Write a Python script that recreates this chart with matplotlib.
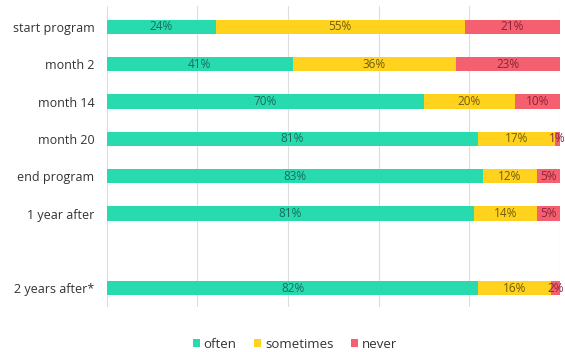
#!/usr/bin/env python3
"""Stacked 100% bar chart: how often participants use what they learned."""

import numpy as np
import matplotlib
matplotlib.use("Agg")
import matplotlib.pyplot as plt

# --- data ---
categories = ["start program", "month 2", "month 14", "month 20",
              "end program", "1 year after", "2 years after*"]
positions = [0, 1, 2, 3, 4, 5, 7]  # gap before the last row
often = [24, 41, 70, 81, 83, 81, 82]
sometimes = [55, 36, 20, 17, 12, 14, 16]
never = [21, 23, 10, 1, 5, 5, 2]

series_names = ["often", "sometimes", "never"]
series_colors = ["#27DBAF", "#FFD21E", "#F4606F"]
label_colors = ["#1B6B58", "#6E5B0E", "#8C2238"]

plt.rcParams["font.family"] = ["Open Sans", "DejaVu Sans"]

fig = plt.figure(figsize=(5.65, 3.52), dpi=100)
ax = fig.add_axes([0.189, 0.128, 0.802, 0.855])

values = np.array([often, sometimes, never], dtype=float)
shares = values / values.sum(axis=0) * 100  # 100% stacked
left = np.zeros(len(categories))
for name, row, raw, color, tcolor in zip(series_names, shares, values,
                                         series_colors, label_colors):
    bars = ax.barh(positions, row, left=left, height=0.38, color=color,
                   label=name, zorder=2)
    for bar, pct in zip(bars, raw):
        cx = bar.get_x() + bar.get_width() / 2
        cy = bar.get_y() + bar.get_height() / 2
        ax.text(cx, cy, f"{int(pct)}%", ha="center", va="center",
                fontsize=8.5, color=tcolor, zorder=3)
    left += row

ax.set_xlim(0, 100)
ax.set_ylim(7.5, -0.56)
ax.set_xticks(np.arange(0, 101, 20))
ax.set_xticklabels([])
ax.tick_params(axis="x", length=0)
ax.tick_params(axis="y", length=0, pad=9, labelsize=9, labelcolor="#333333")
ax.set_yticks(positions)
ax.set_yticklabels(categories)
ax.grid(axis="x", color="#dddddd", lw=0.8, zorder=0)
for spine in ax.spines.values():
    spine.set_visible(False)

fig.legend(loc="lower center", bbox_to_anchor=(0.522, -0.03), ncol=3,
           frameon=False, fontsize=9.5, handlelength=0.55, handleheight=0.55,
           handletextpad=0.3, columnspacing=1.3, labelcolor="#333333")

fig.savefig("out.png", dpi=100)
